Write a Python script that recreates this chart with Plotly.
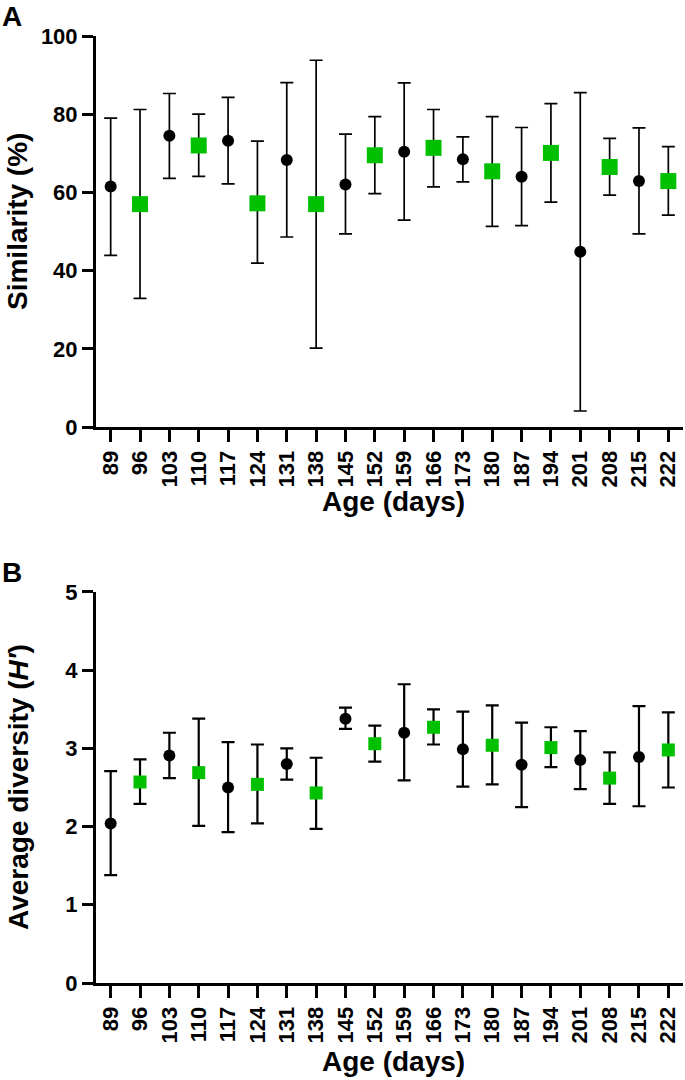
import numpy as np
import plotly.graph_objects as go

# ---------------- data ----------------
ages = [89, 96, 103, 110, 117, 124, 131, 138, 145, 152,
        159, 166, 173, 180, 187, 194, 201, 208, 215, 222]

# Panel A: similarity (%)
sim_mean = [61.5, 57.0, 74.5, 72.0, 73.2, 57.2, 68.3, 57.0, 62.0, 69.5,
            70.4, 71.4, 68.5, 65.4, 64.0, 70.1, 44.8, 66.5, 62.9, 62.9]
sim_upper = [79.0, 81.2, 85.3, 80.0, 84.3, 73.1, 88.1, 93.8, 74.9, 79.4,
             88.0, 81.2, 74.2, 79.4, 76.6, 82.7, 85.5, 73.8, 76.5, 71.7]
sim_lower = [43.9, 32.9, 63.6, 64.1, 62.2, 41.9, 48.6, 20.2, 49.4, 59.7,
             52.9, 61.4, 62.7, 51.3, 51.5, 57.5, 4.1, 59.3, 49.4, 54.2]

# Panel B: average diversity (H')
div_mean = [2.04, 2.57, 2.91, 2.69, 2.50, 2.54, 2.80, 2.43, 3.38, 3.06,
            3.20, 3.27, 2.99, 3.04, 2.79, 3.01, 2.85, 2.62, 2.89, 2.98]
div_upper = [2.71, 2.86, 3.20, 3.38, 3.08, 3.05, 3.00, 2.88, 3.52, 3.29,
             3.82, 3.50, 3.47, 3.55, 3.33, 3.27, 3.22, 2.95, 3.54, 3.46]
div_lower = [1.38, 2.29, 2.62, 2.01, 1.93, 2.04, 2.60, 1.97, 3.25, 2.83,
             2.59, 3.05, 2.51, 2.54, 2.25, 2.76, 2.48, 2.29, 2.26, 2.50]

sim_ticks = [0, 20, 40, 60, 80, 100]
div_ticks = [0, 1, 2, 3, 4, 5]

# ---------------- styling ----------------
FONT = "Liberation Sans, Arial, Helvetica, sans-serif"
BLACK = "#000000"
GREEN = "#00C000"

fig = go.Figure()


def add_panel(mean, upper, lower, xa, ya, circ_size, sq_size, ew):
    mean = np.array(mean)
    up = np.array(upper) - mean
    lo = mean - np.array(lower)
    x = np.array(ages)
    for idx, (sym, col, sz) in enumerate([("circle", BLACK, circ_size),
                                          ("square", GREEN, sq_size)]):
        sel = slice(idx, None, 2)
        fig.add_trace(go.Scatter(
            x=x[sel], y=mean[sel], mode="markers",
            marker=dict(symbol=sym, color=col, size=sz, line=dict(width=0)),
            error_y=dict(type="data", symmetric=False, array=up[sel],
                         arrayminus=lo[sel], color=BLACK, thickness=ew, width=6.5),
            xaxis=xa, yaxis=ya, showlegend=False, cliponaxis=False,
        ))


add_panel(sim_mean, sim_upper, sim_lower, "x", "y", 12, 16, 1.7)
add_panel(div_mean, div_upper, div_lower, "x2", "y2", 12, 13, 2.2)

tickfont = dict(family=FONT, size=22, color=BLACK, weight="bold")

xcommon = dict(
    range=[85.5, 225.5], tickmode="array", tickvals=ages,
    ticktext=[str(a) for a in ages], tickangle=-90,
    showline=True, linecolor=BLACK, linewidth=3, mirror=False,
    ticks="outside", ticklen=12, tickwidth=3, tickcolor=BLACK,
    showgrid=False, zeroline=False, tickfont=tickfont,
)
ycommon = dict(
    showline=True, linecolor=BLACK, linewidth=3,
    ticks="outside", ticklen=11, tickwidth=3, tickcolor=BLACK,
    showgrid=False, zeroline=False, tickfont=tickfont, tickmode="array",
)

fig.update_layout(
    width=685, height=1080,
    margin=dict(l=96, r=2, t=36, b=97),
    paper_bgcolor="white", plot_bgcolor="white",
    xaxis=dict(domain=[0, 1], anchor="y", **xcommon),
    yaxis=dict(domain=[0.5871, 1], anchor="x", range=[0, 100],
               tickvals=sim_ticks, **ycommon),
    xaxis2=dict(domain=[0, 1], anchor="y2", **xcommon),
    yaxis2=dict(domain=[0, 0.4129], anchor="x2", range=[0, 5],
                tickvals=div_ticks, **ycommon),
)

W = 587.0
H = 947.0


def px_x(p):
    return (p - 96) / W


def px_y(p):
    return (983 - p) / H


title_font = dict(family=FONT, size=28, color=BLACK, weight="bold")
annots = [
    dict(text="A", x=px_x(0), y=px_y(17), xanchor="left", yanchor="middle",
         font=title_font),
    dict(text="B", x=px_x(0), y=px_y(572), xanchor="left", yanchor="middle",
         font=title_font),
    dict(text="Age (days)", x=px_x(394), y=px_y(501), xanchor="center",
         yanchor="middle", font=title_font),
    dict(text="Age (days)", x=px_x(394), y=px_y(1061), xanchor="center",
         yanchor="middle", font=title_font),
    dict(text="Similarity (%)", x=px_x(18), y=px_y(222), xanchor="center",
         yanchor="middle", textangle=-90, font=title_font),
    dict(text="Average diversity (<i>H′</i>)", x=px_x(18), y=px_y(787),
         xanchor="center", yanchor="middle", textangle=-90, font=title_font),
]
for a in annots:
    a.update(xref="paper", yref="paper", showarrow=False)
fig.update_layout(annotations=annots)

fig.write_html(
    "out.html",
    config={"displayModeBar": False},
    post_script="document.body.style.margin='0';document.body.style.overflow='hidden';",
)
